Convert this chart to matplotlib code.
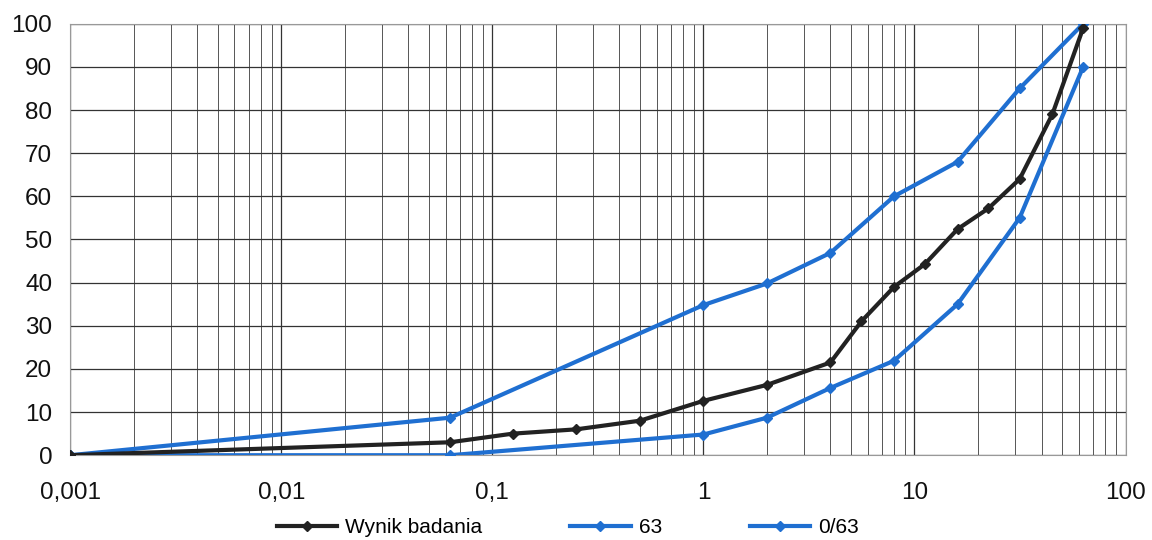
import matplotlib
matplotlib.use('Agg')
import matplotlib.pyplot as plt
from matplotlib.ticker import FixedLocator, LogLocator, NullFormatter

plt.rcParams['font.family'] = ['Liberation Sans', 'DejaVu Sans']

# Sieve sizes (mm) and passing (%)
x_wynik = [0.001, 0.063, 0.125, 0.25, 0.5, 1, 2, 4, 5.6, 8, 11.2, 16, 22.4, 31.5, 45, 63]
y_wynik = [0, 3, 5, 6, 8, 12.6, 16.3, 21.5, 31, 39, 44.3, 52.4, 57.2, 64, 79, 99]

x_63 = [0.001, 0.063, 1, 2, 4, 8, 16, 31.5, 63]
y_63 = [0, 8.7, 34.8, 39.8, 46.9, 60, 68, 85, 100]

x_063 = [0.001, 0.063, 1, 2, 4, 8, 16, 31.5, 63]
y_063 = [0, 0, 4.8, 8.7, 15.6, 21.9, 35, 55, 90]

x_ticks = [0.001, 0.01, 0.1, 1, 10, 100]
x_labels = ['0,001', '0,01', '0,1', '1', '10', '100']
y_ticks = list(range(0, 101, 10))

blue = '#1f6fd1'
dark = '#222222'

fig = plt.figure(figsize=(11.52, 5.4), dpi=100)
ax = fig.add_axes([0.061, 0.157, 0.916, 0.799])

ax.plot(x_wynik, y_wynik, color=dark, lw=3, marker='D', ms=5, label='Wynik badania', zorder=4)
ax.plot(x_63, y_63, color=blue, lw=3, marker='D', ms=5, label='63', zorder=3)
ax.plot(x_063, y_063, color=blue, lw=3, marker='D', ms=5, label='0/63', zorder=3)

ax.set_xscale('log')
ax.set_xlim(0.001, 100)
ax.set_ylim(0, 100)
ax.xaxis.set_major_locator(FixedLocator(x_ticks))
ax.set_xticklabels(x_labels)
ax.xaxis.set_minor_locator(LogLocator(base=10, subs=range(2, 10)))
ax.xaxis.set_minor_formatter(NullFormatter())
ax.set_yticks(y_ticks)

ax.grid(which='major', axis='both', color='#333333', lw=0.9)
ax.grid(which='minor', axis='x', color='#555555', lw=0.7)
ax.tick_params(which='both', length=0, labelsize=17.5, colors='#111111')
ax.tick_params(axis='x', pad=19)
ax.tick_params(axis='y', pad=13)
for s in ax.spines.values():
    s.set_color('#999999')
    s.set_linewidth(0.8)

fig.legend(loc='center', bbox_to_anchor=(0.493, 0.023), ncol=3, frameon=False,
           fontsize=15, handlelength=2.9, handletextpad=0.4, columnspacing=4.2)

fig.savefig('out.png', dpi=100)
